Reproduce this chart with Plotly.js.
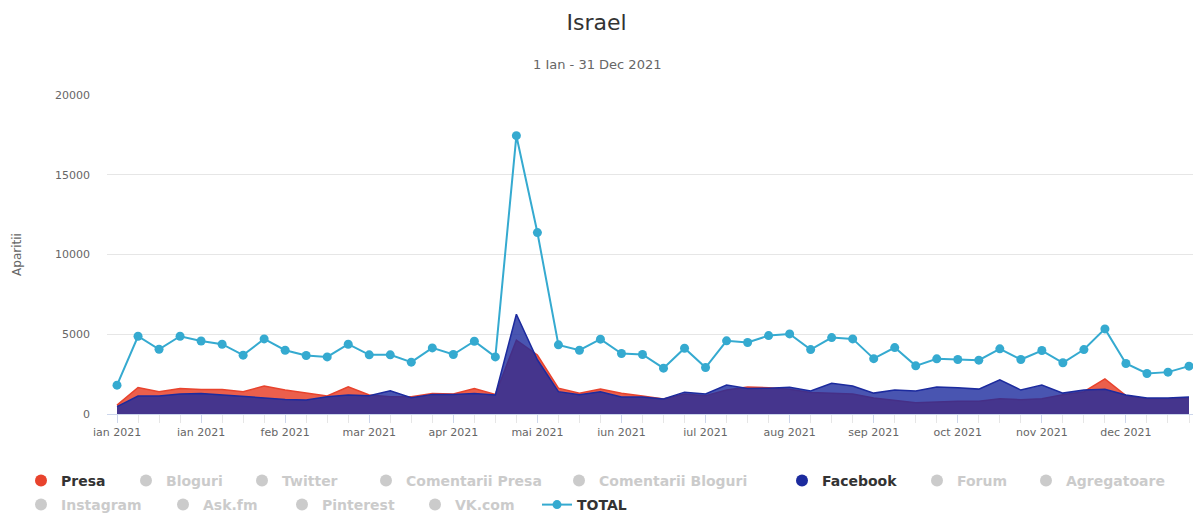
<!DOCTYPE html>
<html>
<head>
<meta charset="utf-8">
<script src="https://cdn.plot.ly/plotly-3.0.1.min.js"></script>
<style>html,body{margin:0;padding:0;background:#fff;}#chart{width:1193px;height:515px;}</style>
</head>
<body>
<div id="chart"></div>
<script>
// ---- data ----
const weeks = ["2021-01-01","2021-01-08","2021-01-15","2021-01-22","2021-01-29","2021-02-05","2021-02-12","2021-02-19","2021-02-26","2021-03-05","2021-03-12","2021-03-19","2021-03-26","2021-04-02","2021-04-09","2021-04-16","2021-04-23","2021-04-30","2021-05-07","2021-05-14","2021-05-21","2021-05-28","2021-06-04","2021-06-11","2021-06-18","2021-06-25","2021-07-02","2021-07-09","2021-07-16","2021-07-23","2021-07-30","2021-08-06","2021-08-13","2021-08-20","2021-08-27","2021-09-03","2021-09-10","2021-09-17","2021-09-24","2021-10-01","2021-10-08","2021-10-15","2021-10-22","2021-10-29","2021-11-05","2021-11-12","2021-11-19","2021-11-26","2021-12-03","2021-12-10","2021-12-17","2021-12-24"];

const presa = [560,1665,1400,1600,1540,1540,1400,1750,1500,1335,1125,1710,1190,1085,1085,1290,1250,1600,1230,4625,3700,1620,1300,1560,1300,1130,940,1250,1150,1500,1700,1650,1550,1350,1300,1250,1000,850,700,750,800,800,950,900,950,1200,1400,2200,1150,950,950,1000];

const facebook = [460,1125,1125,1250,1290,1190,1085,1020,915,875,1085,1190,1150,1460,1020,1230,1230,1290,1190,6250,3400,1400,1200,1400,1070,1070,940,1370,1250,1810,1600,1620,1680,1440,1930,1750,1310,1500,1440,1690,1650,1560,2150,1500,1810,1310,1500,1550,1190,1000,1000,1060];

const total = [1810,4875,4060,4875,4580,4375,3690,4710,4000,3665,3580,4375,3710,3710,3250,4145,3730,4560,3580,17450,11375,4335,4000,4690,3790,3730,2875,4125,2915,4585,4480,4915,5020,4040,4790,4710,3470,4165,3020,3460,3415,3375,4085,3415,3980,3210,4040,5335,3165,2540,2625,3000];

const tickLabels = ["ian 2021","ian 2021","feb 2021","mar 2021","apr 2021","mai 2021","iun 2021","iul 2021","aug 2021","sep 2021","oct 2021","nov 2021","dec 2021"];
const yTicks = [0,5000,10000,15000,20000];

const seriesNames = ["Presa","Bloguri","Twitter","Comentarii Presa","Comentarii Bloguri","Facebook","Forum","Agregatoare","Instagram","Ask.fm","Pinterest","VK.com","TOTAL"];
const shownSeries = ["Presa","Facebook","TOTAL"];

// ---- styles ----
const FONT = "DejaVu Sans";
const colors = {Presa:"#e8432d", Facebook:"#1c2b9e", TOTAL:"#35aad0", hidden:"#999999"};
// legend placement (marker centre px, row y px)
const legendPos = {
  "Presa":[41,481],"Bloguri":[146,481],"Twitter":[262,481],"Comentarii Presa":[386,481],
  "Comentarii Bloguri":[579,481],"Facebook":[802,481],"Forum":[937,481],"Agregatoare":[1046,481],
  "Instagram":[41,505],"Ask.fm":[183,505],"Pinterest":[302,505],"VK.com":[435,505],"TOTAL":[557,505]
};
const W = 1193, H = 515;
const legendId = i => i === 0 ? "legend" : "legend" + (i + 1);

const traces = [];
// areas
traces.push({
  x: weeks, y: presa, type: "scatter", mode: "lines", name: "Presa",
  fill: "tozeroy", fillcolor: "rgba(232,67,45,0.85)",
  line: {color: colors.Presa, width: 1.5}, showlegend: false, hoverinfo: "x+y+name"
});
traces.push({
  x: weeks, y: facebook, type: "scatter", mode: "lines", name: "Facebook",
  fill: "tozeroy", fillcolor: "rgba(28,43,158,0.8)",
  line: {color: colors.Facebook, width: 1.5}, showlegend: false, hoverinfo: "x+y+name"
});
// total line
traces.push({
  x: weeks, y: total, type: "scatter", mode: "lines+markers", name: "TOTAL",
  line: {color: colors.TOTAL, width: 2},
  marker: {color: colors.TOTAL, size: 9, symbol: "circle"},
  legend: legendId(seriesNames.indexOf("TOTAL"))
});
// legend entries
seriesNames.forEach((n, i) => {
  if (n === "TOTAL") return;
  const shown = shownSeries.includes(n);
  traces.push({
    x: [null], y: [null], type: "scatter", mode: "markers", name: n,
    marker: {color: shown ? colors[n] : colors.hidden, size: 12, symbol: "circle"},
    visible: shown ? true : "legendonly",
    legend: legendId(i), hoverinfo: "skip"
  });
});

const layout = {
  width: W, height: H,
  paper_bgcolor: "#fff", plot_bgcolor: "#fff",
  font: {family: FONT, color: "#333"},
  margin: {l: 107, r: 0, t: 95, b: 101},
  title: {text: "Israel", x: 0.5, xref: "container", xanchor: "center",
          y: 1 - 22 / H, yref: "container", yanchor: "middle",
          font: {family: FONT, size: 22, color: "#333"}},
  annotations: [{
    text: "1 Ian - 31 Dec 2021", showarrow: false,
    xref: "paper", x: (596.5 - 107) / 1086, xanchor: "center",
    yref: "paper", y: (414 - 64) / 319, yanchor: "middle",
    font: {family: FONT, size: 13, color: "#666"}
  }],
  xaxis: {
    type: "date", range: ["2020-12-28 16:00", "2021-12-25 08:00"],
    tickmode: "array",
    tickvals: tickLabels.map((_, i) => weeks[i * 4]),
    ticktext: tickLabels,
    ticks: "outside", ticklen: 8, tickcolor: "#ccd6eb", tickwidth: 1,
    showgrid: false, showline: true, linecolor: "#ccd6eb", linewidth: 1,
    tickfont: {family: FONT, size: 11, color: "#666"},
    minor: {tick0: weeks[0], dtick: 7 * 86400000, ticks: "outside", ticklen: 8, tickcolor: "#e6e6e6", showgrid: false},
    zeroline: false, fixedrange: true
  },
  yaxis: {
    range: [0, 20000], tickmode: "array", tickvals: yTicks,
    ticktext: yTicks.map(String),
    showgrid: true, gridcolor: "#e6e6e6", gridwidth: 1,
    zeroline: false, showline: false, ticks: "",
    ticklabelstandoff: 16,
    tickfont: {family: FONT, size: 11, color: "#666"},
    title: {text: "Aparitii", standoff: 30, font: {family: FONT, size: 12, color: "#666"}},
    fixedrange: true
  },
  showlegend: true
};

seriesNames.forEach((n, i) => {
  const shown = shownSeries.includes(n);
  const p = legendPos[n];
  layout[legendId(i)] = {
    orientation: "h", xref: "container", yref: "container",
    x: (p[0] - 20) / W, xanchor: "left",
    y: 1 - p[1] / H, yanchor: "middle",
    bgcolor: "rgba(0,0,0,0)", borderwidth: 0,
    font: {family: FONT, size: 14, weight: "bold", color: shown ? "#333" : "#999"},
    itemclick: false, itemdoubleclick: false
  };
});

Plotly.newPlot("chart", traces, layout, {displayModeBar: false, staticPlot: true});
</script>
</body>
</html>
